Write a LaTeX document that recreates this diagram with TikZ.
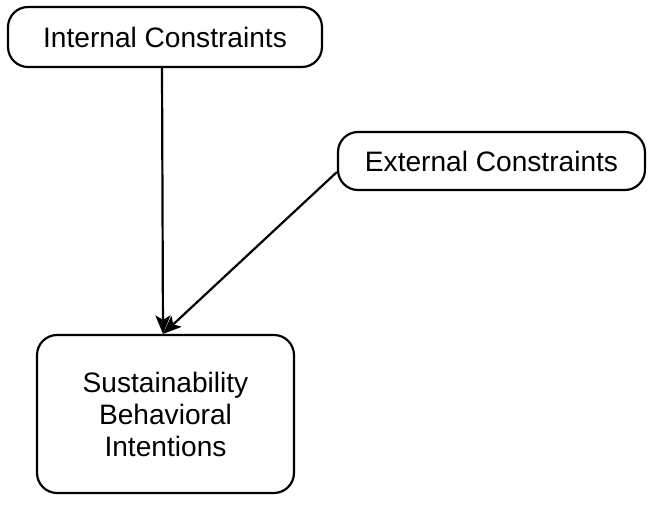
\documentclass[tikz,border=0pt]{standalone}
\usepackage{fontspec}
\setmainfont{Liberation Sans}
\usetikzlibrary{arrows.meta}

\begin{document}
\begin{tikzpicture}
            [x=0.02cm,y=-0.02cm,
             box/.style={draw,line width=1.25pt,rounded corners=0.4cm,
                         align=center,inner sep=0pt,
                         font=\fontsize{16}{18.2}\selectfont},
             arr/.style={line width=1.25pt,
                         -{Stealth[length=10.5pt,width=8.5pt,inset=2.5pt]}}]
            \useasboundingbox (0,0) rectangle (650,520);
            \node[box,minimum width=6.28cm,minimum height=1.2cm](int) at (165,37){Internal Constraints};
            \node[box,minimum width=6.14cm,minimum height=1.16cm](ext) at (491.5,161){External Constraints};
            \node[box,minimum width=5.14cm,minimum height=3.16cm](sus) at (165.5,414){Sustainability\\Behavioral\\Intentions};
            \draw[arr]([xshift=-0.06cm]int.south) -- ([xshift=-0.05cm]sus.north);
            \draw[arr]([yshift=-0.22cm]ext.west) -- ([xshift=-0.05cm]sus.north);
        \end{tikzpicture}
\end{document}
